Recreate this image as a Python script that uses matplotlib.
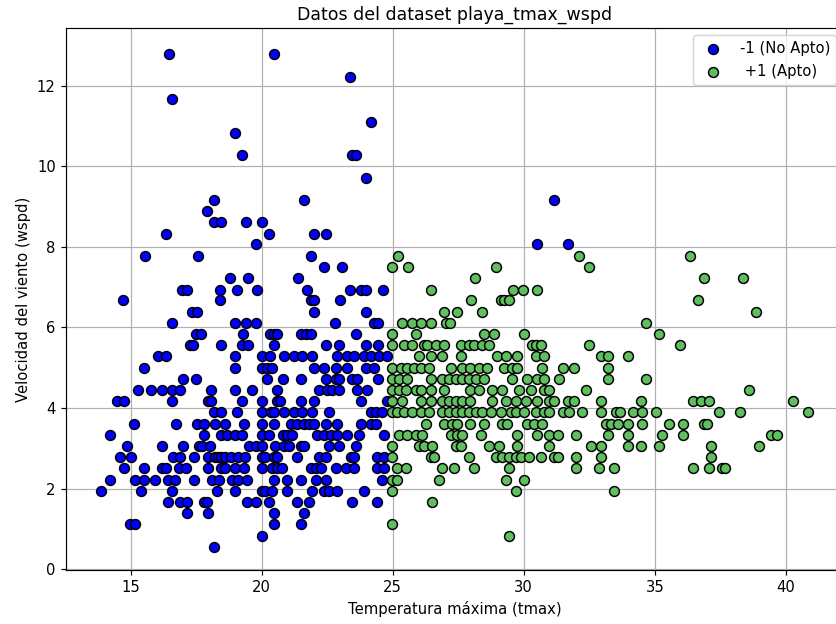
import matplotlib
matplotlib.use("Agg")
import matplotlib.pyplot as plt
import numpy as np

# ---- Clase -1 (No Apto): temperatura máxima y velocidad del viento ----
tmax_no_apto = [
    16.48, 20.47,
    23.37,
    16.59,
    24.16,
    18.98,
    19.27, 23.46, 23.61,
    24.0,
    18.19, 21.6, 31.17,
    17.9,
    18.18, 18.47, 19.39, 20.01,
    16.36, 20.28, 22.0, 22.45,
    19.78, 30.5, 31.69,
    15.56, 17.57, 21.9,
    22.39, 23.07,
    18.8, 19.49, 21.39,
    16.97, 17.16, 18.42, 19.06, 19.84, 21.75, 23.36, 23.78, 24.0, 24.65,
    14.72, 18.41, 21.88, 22.0, 22.98,
    17.35, 17.52, 22.0, 24.0,
    16.59, 18.98, 19.39, 19.78, 22.8, 24.3, 24.45,
    17.5, 17.67, 19.3, 20.32, 20.47, 20.6, 21.49, 21.68, 21.87, 23.59,
    17.25, 17.39, 18.47, 19.24, 19.48, 20.47, 22.44, 22.95, 23.97, 24.45,
    16.06, 16.34, 18.98, 20.0, 20.32, 20.85, 21.23, 21.55, 21.93, 22.89, 23.27, 23.52, 23.9, 24.16, 24.48, 24.8,
    15.51, 18.98, 20.0, 20.19, 20.38, 22.0, 22.38, 22.82, 23.27, 23.97, 24.29,
    16.99, 17.5, 20.19, 20.83, 21.49, 22.44, 22.82, 22.95, 23.46, 23.65, 24.45,
    15.28, 15.79, 16.2, 16.59, 16.87, 18.08, 18.98, 19.64, 20.6, 22.19, 22.51, 22.7, 22.95, 23.65, 24.03,
    14.49, 14.77, 16.59, 17.95, 18.08, 19.24, 20.0, 20.6, 20.72, 21.49, 22.0, 23.78, 24.8,
    18.18, 18.44, 19.07, 20.0, 20.34, 20.47, 20.85, 21.23, 21.55, 21.93, 22.57, 24.16, 24.35, 24.61,
    15.13, 16.72, 17.54, 17.8, 18.24, 18.6, 19.32, 20.0, 20.47, 21.11, 21.36, 21.61, 21.8, 22.0, 22.44, 22.89, 23.78, 24.16, 24.35,
    14.2, 17.8, 18.44, 18.69, 18.98, 19.24, 20.0, 20.28, 20.83, 20.98, 21.17, 22.13, 22.38, 22.63, 22.89, 23.27, 23.71, 24.67,
    14.87, 16.2, 16.99, 17.61, 17.71, 18.05, 19.52, 19.77, 20.0, 20.53, 20.85, 21.04, 21.49, 21.61, 22.57, 22.95, 23.59,
    14.59, 15.0, 16.61, 16.87, 17.42, 17.96, 18.22, 18.35, 18.47, 18.6, 18.85, 19.11, 19.36, 20.0, 20.13, 20.47, 20.6, 21.36, 22.19, 22.44, 23.4, 23.52, 24.42, 24.67,
    14.77, 15.51, 16.2, 16.34, 16.84, 17.13, 17.96, 18.47, 18.6, 18.98, 19.32, 20.0, 20.38, 20.6, 20.79, 21.87, 22.06, 22.25, 22.82, 23.21, 23.52, 24.42, 24.67,
    14.2, 15.16, 15.51, 15.95, 16.44, 16.69, 17.42, 18.12, 18.37, 18.88, 19.11, 19.45, 20.47, 20.98, 21.49, 22.06, 22.44, 24.61,
    13.89, 15.41, 16.59, 18.31, 18.98, 20.0, 20.13, 20.38, 20.98, 21.93, 22.38, 22.57, 22.89, 23.9,
    16.44, 16.87, 17.16, 17.8, 17.93, 19.45, 19.77, 20.28, 21.36, 21.8, 23.46, 24.42,
    17.16, 17.96, 20.47, 21.61,
    14.97, 15.16, 20.47, 21.49,
    20.0,
    18.18,
]
wspd_no_apto = (
    [12.78] * 2 + [12.22] * 1 + [11.67] * 1 + [11.11] * 1 + [10.83] * 1
    + [10.28] * 3 + [9.72] * 1 + [9.17] * 3 + [8.89] * 1 + [8.61] * 4
    + [8.33] * 4 + [8.06] * 3 + [7.78] * 3 + [7.5] * 2 + [7.22] * 3
    + [6.94] * 10 + [6.67] * 5 + [6.39] * 4 + [6.11] * 7 + [5.83] * 10
    + [5.56] * 10 + [5.28] * 16 + [5.0] * 11 + [4.72] * 11 + [4.44] * 15
    + [4.17] * 13 + [3.89] * 14 + [3.61] * 19 + [3.33] * 18 + [3.06] * 17
    + [2.78] * 24 + [2.5] * 23 + [2.22] * 18 + [1.94] * 14 + [1.67] * 12
    + [1.39] * 4 + [1.11] * 4 + [0.83] * 1 + [0.56] * 1
)

# ---- Clase +1 (Apto) ----
tmax_apto = [
    25.19, 32.09, 36.36,
    24.96, 25.58, 28.96, 32.5,
    28.16, 36.87, 38.36,
    26.45, 29.58, 29.99, 30.5,
    27.98, 29.12, 29.25, 29.44, 36.64,
    26.96, 27.47, 28.39, 38.87,
    25.37, 25.75, 26.07, 26.45, 27.05, 27.2, 34.66,
    24.96, 25.88, 28.48, 28.87, 30.0, 35.16,
    24.96, 25.43, 25.75, 26.19, 26.32, 26.64, 26.96, 27.6, 27.91, 28.1, 28.42, 28.68, 30.33, 30.46, 30.65, 32.5, 35.97,
    26.0, 26.45, 26.89, 27.6, 28.99, 29.31, 29.76, 30.46, 30.78, 32.94, 33.2, 33.96,
    24.96, 25.31, 25.56, 25.81, 26.07, 26.39, 27.21, 27.66, 27.95, 28.29, 28.61, 29.25, 29.57, 29.76, 30.71, 31.48, 31.92, 33.2,
    24.96, 25.24, 25.56, 26.45, 26.89, 27.15, 27.4, 27.66, 27.91, 28.17, 28.48, 29.57, 30.14, 30.52, 30.78, 31.35, 33.2, 34.66,
    24.96, 25.24, 25.5, 25.88, 26.07, 26.45, 26.96, 27.95, 28.29, 28.8, 29.19, 29.82, 30.27, 30.78, 30.97, 32.37, 38.6,
    24.96, 25.37, 26.07, 26.45, 26.89, 27.15, 27.4, 27.66, 27.95, 28.8, 29.31, 29.69, 30.08, 30.52, 30.97, 31.16, 31.67, 31.92, 32.94, 34.47, 36.46, 36.76, 37.07, 40.26,
    24.96, 25.18, 25.43, 25.75, 26.07, 26.39, 26.89, 27.15, 27.4, 27.66, 27.91, 28.17, 28.42, 28.74, 29.12, 29.5, 29.69, 30.0, 30.46, 30.78, 30.97, 31.48, 31.73, 32.24, 32.94, 33.51, 33.67, 34.15, 34.5, 35.04, 37.45, 38.26, 40.85,
    26.26, 26.96, 27.27, 27.47, 27.95, 28.48, 29.19, 29.38, 30.14, 30.39, 30.71, 33.13, 33.32, 33.58, 33.99, 34.5, 35.55, 36.08, 36.88, 36.98,
    25.24, 25.56, 25.88, 26.13, 27.21, 27.47, 27.66, 28.36, 29.76, 30.52, 30.97, 31.29, 31.98, 33.2, 33.99, 35.29, 36.08, 39.43, 39.66,
    24.96, 26.0, 26.19, 26.51, 27.4, 27.6, 28.68, 29.06, 29.76, 30.97, 32.56, 32.94, 33.99, 34.47, 35.16, 37.16, 38.98,
    24.96, 26.45, 26.58, 27.91, 28.93, 29.19, 29.44, 29.69, 29.89, 30.2, 30.65, 31.16, 31.29, 31.98, 32.94, 37.16,
    25.18, 25.5, 26.89, 27.34, 28.1, 29.44, 31.98, 32.88, 33.45, 36.46, 37.07, 37.58, 37.68,
    24.96, 25.18, 26.77, 29.31, 30.0,
    24.96, 29.69, 33.45,
    26.51,
    24.96,
    29.44,
]
wspd_apto = (
    [7.78] * 3 + [7.5] * 4 + [7.22] * 3 + [6.94] * 4 + [6.67] * 5
    + [6.39] * 4 + [6.11] * 7 + [5.83] * 6 + [5.56] * 17 + [5.28] * 12
    + [5.0] * 18 + [4.72] * 18 + [4.44] * 17 + [4.17] * 24 + [3.89] * 33
    + [3.61] * 20 + [3.33] * 19 + [3.06] * 17 + [2.78] * 16 + [2.5] * 13
    + [2.22] * 5 + [1.94] * 3 + [1.67] * 1 + [1.11] * 1 + [0.83] * 1
)

labels = ["-1 (No Apto)", " +1 (Apto)"]
colors = ["#0000ff", "#5fbf5f"]

DPI = 106
fig = plt.figure(figsize=(836 / DPI, 624 / DPI), dpi=DPI)
# the axes runs slightly past the right border of the canvas
ax = fig.add_axes([0.079, 0.0865, 0.93, 0.8685])

ax.scatter(tmax_no_apto, wspd_no_apto, s=45, c=colors[0],
           edgecolors="black", linewidths=1.0, label=labels[0], zorder=3)
ax.scatter(tmax_apto, wspd_apto, s=45, c=colors[1],
           edgecolors="black", linewidths=1.0, label=labels[1], zorder=3)

ax.set_xlim(12.54, 42.2)
ax.set_ylim(-0.02, 13.43)
ax.set_xticks([15, 20, 25, 30, 35, 40])
ax.set_yticks([0, 2, 4, 6, 8, 10, 12])
ax.grid(True, color="#b0b0b0", linewidth=0.8)
ax.set_axisbelow(True)

ax.set_title("Datos del dataset playa_tmax_wspd", fontsize=11.8)
ax.set_xlabel("Temperatura máxima (tmax)")
ax.set_ylabel("Velocidad del viento (wspd)")
ax.legend(loc="upper right")

fig.savefig("out.png", dpi=DPI)
